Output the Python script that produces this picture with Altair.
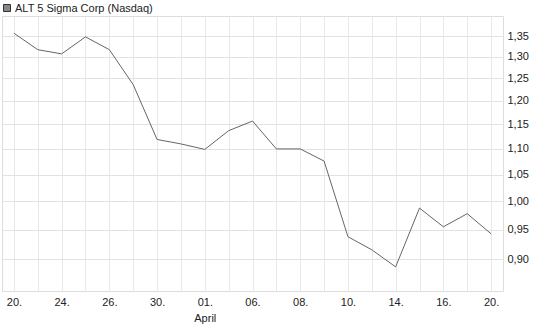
import altair as alt
import pandas as pd
import json

dates = ["2026-03-20", "2026-03-23", "2026-03-24", "2026-03-25", "2026-03-26",
         "2026-03-27", "2026-03-30", "2026-03-31", "2026-04-01", "2026-04-02",
         "2026-04-06", "2026-04-07", "2026-04-08", "2026-04-09", "2026-04-10",
         "2026-04-13", "2026-04-14", "2026-04-15", "2026-04-16", "2026-04-17",
         "2026-04-20"]
prices = [1.357, 1.317, 1.307, 1.348, 1.317, 1.236, 1.119, 1.110, 1.099, 1.137,
          1.157, 1.100, 1.100, 1.076, 0.938, 0.916, 0.888, 0.988, 0.955, 0.978,
          0.943]
x_labels = ["20.", "", "24.", "", "26.", "", "30.", "", ["01.", "April"], "",
            "06.", "", "08.", "", "10.", "", "14.", "", "16.", "", "20."]
y_ticks = [0.90, 0.95, 1.00, 1.05, 1.10, 1.15, 1.20, 1.25, 1.30, 1.35]
series_name = "ALT 5 Sigma Corp (Nasdaq)"

df = pd.DataFrame({"date": dates, "price": prices})

label_expr = "{}[indexof({}, datum.value)]".format(json.dumps(x_labels), json.dumps(dates))

font = "Liberation Sans"

base = alt.Chart(df)

line = base.mark_line(color="#666666", strokeWidth=1).encode(
    x=alt.X("date:O", sort=None,
            scale=alt.Scale(type="point", padding=0.5),
            axis=alt.Axis(title=None, ticks=False, domain=False, grid=True,
                          gridColor="#e8e8e8", labelAngle=0,
                          labelExpr=label_expr, labelPadding=5,
                          labelFontSize=11, labelFont=font, labelColor="#222222",
                          labelLineHeight=16, labelOverlap=False,
                          labelBaseline="top")),
    y=alt.Y("price:Q",
            scale=alt.Scale(type="log", domain=[0.85, 1.40], nice=False, zero=False),
            axis=alt.Axis(title=None, orient="right", ticks=False, domain=False,
                          values=y_ticks, gridColor="#e2e2e2",
                          labelExpr="replace(format(datum.value, '.2f'), '.', ',')",
                          labelPadding=4, labelFontSize=11, labelFont=font,
                          labelColor="#222222")),
)

leg_df = pd.DataFrame({"name": [series_name]})
leg_box = alt.Chart(leg_df).mark_rect(fill="#888888", stroke="#333333", strokeWidth=1).encode(
    x=alt.value(1.5), x2=alt.value(8.5), y=alt.value(-11.5), y2=alt.value(-4.5)
)
leg_text = alt.Chart(leg_df).mark_text(align="left", baseline="alphabetic",
                                         font=font, fontSize=11, color="#222222").encode(
    x=alt.value(13), y=alt.value(-4.5), text="name:N"
)

chart = alt.layer(line, leg_box, leg_text).properties(
    width=501, height=275,
    autosize=alt.AutoSizeParams(type="none"),
    padding={"left": 2, "top": 16, "right": 42, "bottom": 36},
).configure_view(stroke="#cccccc", strokeWidth=1).configure(background="white")

chart.save("out.html", embed_options={"renderer": "svg", "actions": False})
